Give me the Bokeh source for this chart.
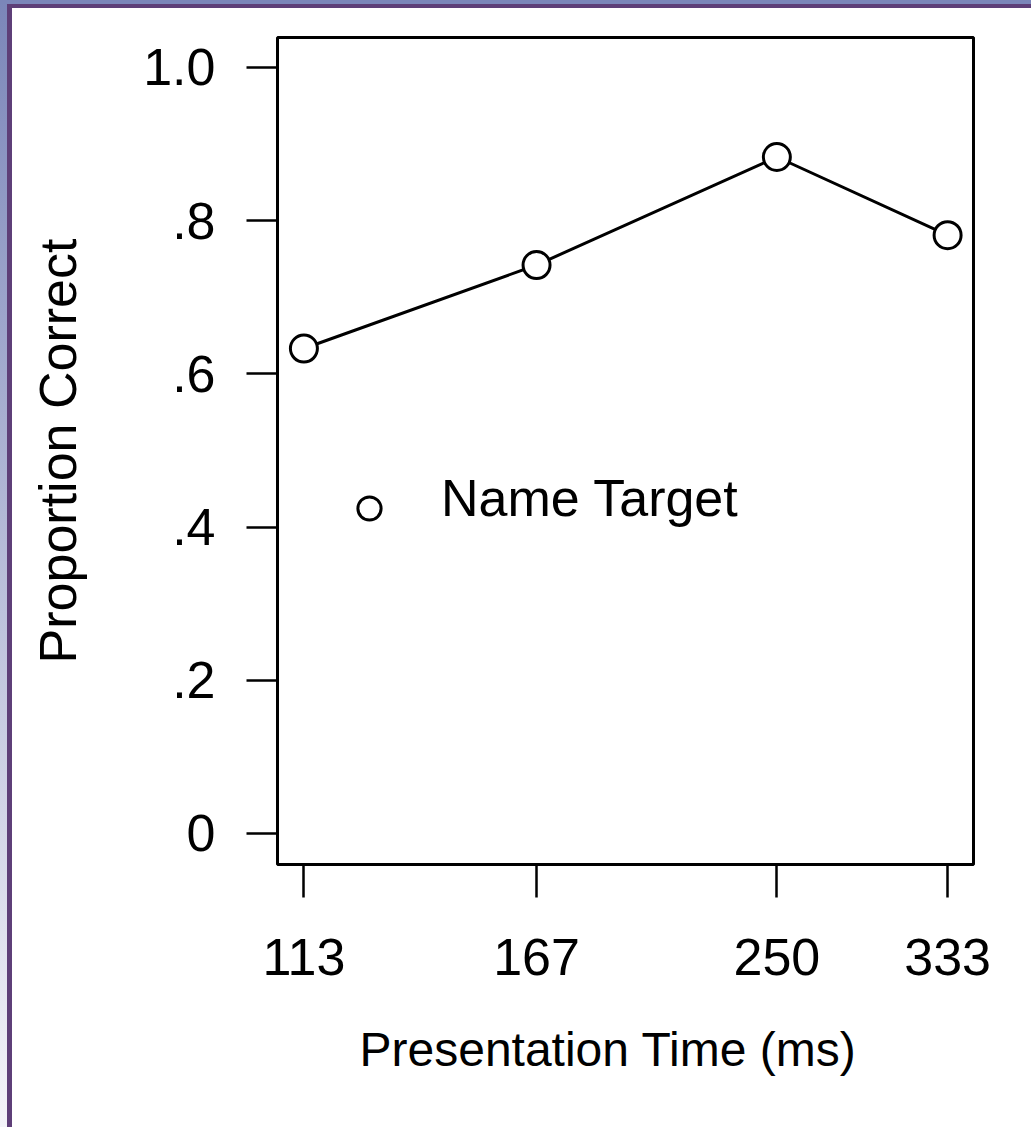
from bokeh.plotting import figure
from bokeh.models import (FixedTicker, CustomJSTickFormatter, Legend, LegendItem,
                          Range1d, Title)
from bokeh.embed import file_html
from bokeh.resources import INLINE

# ---- data ----
presentation_ms = [113, 167, 250, 333]
proportion_correct = [0.633, 0.742, 0.883, 0.781]
x_ticks = [113, 167, 250, 333]
x_tick_labels = ["113", "167", "250", "333"]
y_ticks = [0, 0.2, 0.4, 0.6, 0.8, 1.0]
y_tick_labels = ["0", ".2", ".4", ".6", ".8", "1.0"]
series_name = "Name Target"
x_title = "Presentation Time (ms)"
y_title = "Proportion Correct"

FONT = "Liberation Sans"
W, H = 1031, 1127

p = figure(width=W, height=H, x_axis_type="log",
           x_range=Range1d(108.1, 347.8), y_range=Range1d(-0.0405, 1.039),
           output_backend="svg", toolbar_location=None, title=None,
           min_border_left=277, min_border_right=58,
           min_border_top=37, min_border_bottom=263,
           background_fill_color="white", border_fill_color=None)

# page frame decoration: blue band + purple rule along the top and left edges
p.styles = {
    "background": (
        "linear-gradient(#5e3f78,#5e3f78) 7px 4px / 5px 100% no-repeat, "
        "linear-gradient(#5e3f78,#5e3f78) 7px 4px / 100% 4px no-repeat, "
        "linear-gradient(#7b86b9,#7b86b9) 0 0 / 100% 4px no-repeat, "
        "linear-gradient(#7b86b9,#f4f4f9) 0 0 / 7px 100% no-repeat, "
        "#ffffff"
    )
}

p.xgrid.visible = False
p.ygrid.visible = False
p.outline_line_color = "black"
p.outline_line_width = 3
p.outline_line_alpha = 1

r_line = p.line(presentation_ms, proportion_correct, line_color="black", line_width=3)
r_pts = p.scatter(presentation_ms, proportion_correct, size=27, marker="circle",
                  fill_color="white", line_color="black", line_width=3)
r_ghost = p.scatter(x=[], y=[], fill_alpha=0, line_alpha=0)

fmt_code = """
const i = tvals.findIndex(t => Math.abs(t - tick) < 1e-6);
return i >= 0 ? tlabels[i] : "";
"""
p.xaxis.ticker = FixedTicker(ticks=x_ticks, minor_ticks=[])
p.xaxis.formatter = CustomJSTickFormatter(args=dict(tvals=x_ticks, tlabels=x_tick_labels), code=fmt_code)
p.yaxis.ticker = FixedTicker(ticks=y_ticks, minor_ticks=[])
p.yaxis.formatter = CustomJSTickFormatter(args=dict(tvals=y_ticks, tlabels=y_tick_labels), code=fmt_code)

p.yaxis.axis_label = y_title

for ax in (p.xaxis[0], p.yaxis[0]):
    ax.axis_line_color = None
    ax.major_tick_in = 0
    ax.major_tick_line_width = 2.5
    ax.major_tick_line_color = "black"
    ax.minor_tick_line_color = None
    ax.major_label_text_font = FONT
    ax.major_label_text_font_size = "52px"
    ax.major_label_text_color = "black"
    ax.axis_label_text_font = FONT
    ax.axis_label_text_font_style = "normal"
    ax.axis_label_text_color = "black"

p.xaxis.major_tick_out = 33
p.yaxis.major_tick_out = 31
p.xaxis.major_label_standoff = 41
p.yaxis.major_label_standoff = 31
p.yaxis.axis_label_text_font_size = "52px"
p.yaxis.axis_label_standoff = 53

# x-axis title (slightly left of the frame centre, as in the original)
p.add_layout(Title(text=x_title, align="left", offset=82, standoff=87,
                   text_font=FONT, text_font_size="48px", text_font_style="normal",
                   text_color="black"), "below")

# legend: marker and its label placed separately
legend_marker = Legend(items=[LegendItem(label=" ", renderers=[r_pts])],
                       location=(63, 327), glyph_width=58, glyph_height=58,
                       label_standoff=0, padding=0, margin=0, spacing=0,
                       border_line_color=None, background_fill_alpha=0,
                       label_text_font=FONT, label_text_font_size="10px")
legend_text = Legend(items=[LegendItem(label=series_name, renderers=[r_ghost])],
                     location=(163, 336), glyph_width=1, glyph_height=1,
                     label_standoff=0, padding=0, margin=0, spacing=0,
                     border_line_color=None, background_fill_alpha=0,
                     label_text_font=FONT, label_text_font_size="52px",
                     label_text_color="black")
p.add_layout(legend_marker)
p.add_layout(legend_text)

open("out.html", "w").write(file_html(p, INLINE))
